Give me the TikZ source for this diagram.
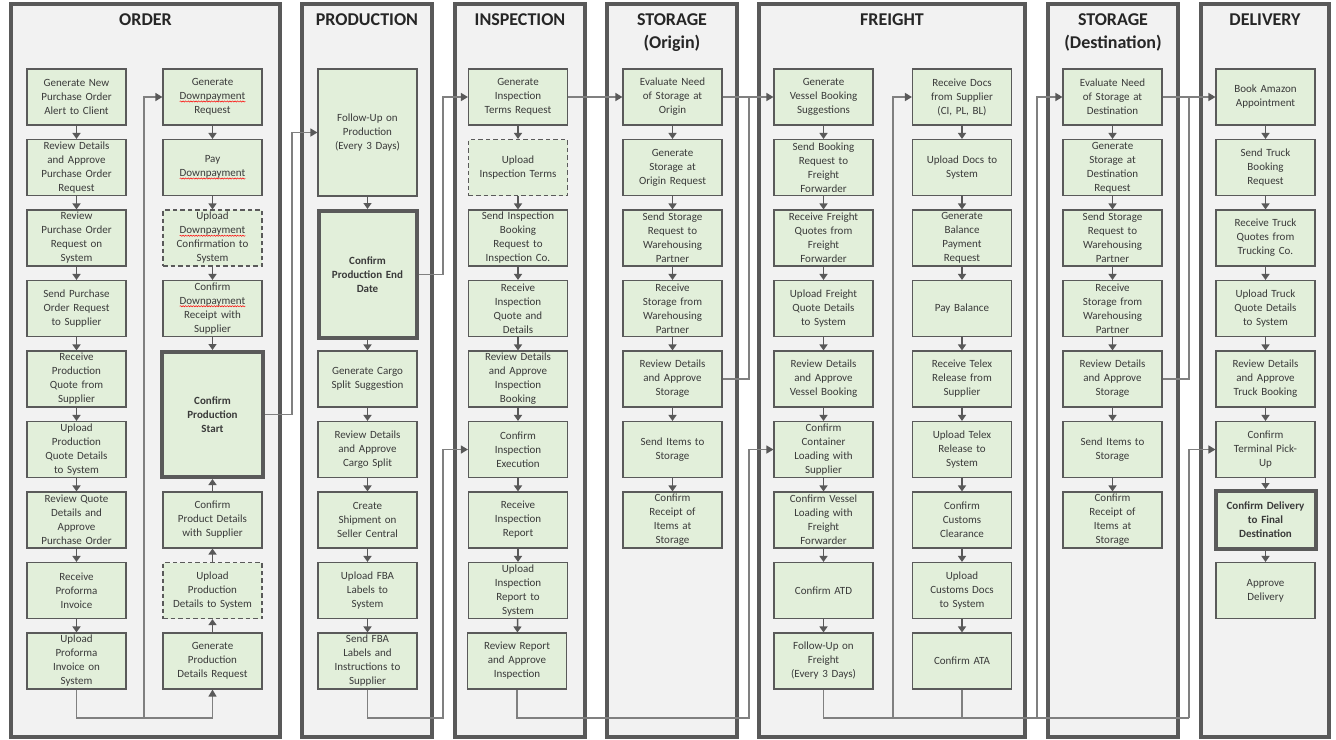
\documentclass[tikz,border=0pt]{standalone}
\usepackage{fontspec}
\setmainfont{Carlito}
\usetikzlibrary{arrows.meta,decorations.pathmorphing}
\definecolor{lanec}{HTML}{595959}
\definecolor{lanefill}{HTML}{F2F2F2}
\definecolor{boxc}{HTML}{5A5A5A}
\definecolor{boxfill}{HTML}{E2EFDA}
\definecolor{txtc}{HTML}{3A3A3A}
\definecolor{titc}{HTML}{262626}
\definecolor{arrc}{HTML}{595959}
\definecolor{connc}{HTML}{808080}
\newcommand\boxfont{\fontsize{11}{14}\selectfont}
\newcommand\titfont{\fontsize{18}{23}\selectfont\bfseries}
\newcommand\sqw[1]{\tikz[baseline=(sqwn.base)]{\node[inner sep=0pt,outer sep=0pt,draw=none,fill=none,text width=,minimum width=0pt,minimum height=0pt,anchor=base](sqwn){#1};\draw[draw=red,line width=0.5pt,solid,decorate,decoration={snake,amplitude=0.6pt,segment length=2.6pt}]([yshift=-1.8pt]sqwn.base west)--([yshift=-1.8pt]sqwn.base east);}}
\begin{document}
\begin{tikzpicture}[x=1pt,y=-1pt,
  lane/.style={draw=lanec,line width=3.5pt,fill=lanefill},
  title/.style={font=\titfont,text=titc,align=center,inner sep=0pt},
  box/.style={draw=boxc,line width=1.1pt,fill=boxfill,minimum width=99pt,minimum height=56pt,text width=97pt,align=center,inner sep=0pt,font=\boxfont,text=txtc},
  dbox/.style={box,line width=1.2pt,dash pattern=on 4.5pt off 3pt},
  kbox/.style={box,line width=4pt,minimum width=101pt,font=\boxfont\bfseries},
  flow/.style={draw=arrc,line width=1.5pt,-{Triangle[width=8pt,length=6pt]}},
  conn/.style={draw=connc,line width=1.3pt},
  conna/.style={conn,-{Triangle[width=8pt,length=7pt,color=arrc]}}
]
\useasboundingbox[fill=white] (0,0) rectangle (1336,739);
% lanes
\draw[lane] (11,4) rectangle (280,737);
\draw[lane] (302,4) rectangle (432,737);
\draw[lane] (455,4) rectangle (585,737);
\draw[lane] (607,4) rectangle (737,737);
\draw[lane] (759,4) rectangle (1025,737);
\draw[lane] (1048,4) rectangle (1178,737);
\draw[lane] (1201,4) rectangle (1329,737);
% titles
\node[title,anchor=north] (tOrd) at (145.5,13.5) {ORDER};
\node[title,anchor=north] (tPro) at (367,13.5) {PRODUCTION};
\node[title,anchor=north] (tIns) at (520,13.5) {INSPECTION};
\node[title,anchor=north] (tSto) at (672,13.5) {STORAGE\\(Origin)};
\node[title,anchor=north] (tFre) at (892,13.5) {FREIGHT};
\node[title,anchor=north] (tStd) at (1113,13.5) {STORAGE\\(Destination)};
\node[title,anchor=north] (tDel) at (1265,13.5) {DELIVERY};
% ORDER column 1
\node[box] (o1) at (76.5,97) {Generate New\\Purchase Order\\Alert to Client};
\node[box] (o2) at (76.5,167.5) {Review Details\\and Approve\\Purchase Order\\Request};
\node[box] (o3) at (76.5,238) {Review\\Purchase Order\\Request on\\System};
\node[box] (o4) at (76.5,308.5) {Send Purchase\\Order Request\\to Supplier};
\node[box] (o5) at (76.5,379) {Receive\\Production\\Quote from\\Supplier};
\node[box] (o6) at (76.5,449.5) {Upload\\Production\\Quote Details\\to System};
\node[box] (o7) at (76.5,520) {Review Quote\\Details and\\Approve\\Purchase Order};
\node[box] (o8) at (76.5,590.5) {Receive\\Proforma\\Invoice};
\node[box] (o9) at (76.5,661) {Upload\\Proforma\\Invoice on\\System};
% ORDER column 2
\node[box] (p1) at (212.5,97) {Generate\\\sqw{Downpayment}\\Request};
\node[box] (p2) at (212.5,167.5) {Pay\\\sqw{Downpayment}};
\node[dbox] (p3) at (212.5,238) {Upload\\\sqw{Downpayment}\\Confirmation to\\System};
\node[box] (p4) at (212.5,308.5) {Confirm\\\sqw{Downpayment}\\Receipt with\\Supplier};
\node[kbox,minimum height=125pt] (ps) at (212.5,414.5) {Confirm\\Production\\Start};
\node[box] (p6) at (212.5,520) {Confirm\\Product Details\\with Supplier};
\node[dbox] (p7) at (212.5,590.5) {Upload\\Production\\Details to System};
\node[box] (p8) at (212.5,661) {Generate\\Production\\Details Request};
% PRODUCTION
\node[box,minimum height=127pt] (pr1) at (367.5,132.5) {Follow-Up on\\Production\\(Every 3 Days)};
\node[kbox,minimum height=127pt,minimum width=98pt] (pe) at (367.5,274.5) {Confirm\\Production End\\Date};
\node[box] (pr3) at (367.5,379) {Generate Cargo\\Split Suggestion};
\node[box] (pr4) at (367.5,449.5) {Review Details\\and Approve\\Cargo Split};
\node[box] (pr5) at (367.5,520) {Create\\Shipment on\\Seller Central};
\node[box] (pr6) at (367.5,590.5) {Upload FBA\\Labels to\\System};
\node[box] (pr7) at (367.5,661) {Send FBA\\Labels and\\Instructions to\\Supplier};
% INSPECTION
\node[box] (i1) at (518,97) {Generate\\Inspection\\Terms Request};
\node[dbox] (i2) at (518,167.5) {Upload\\Inspection Terms};
\node[box] (i3) at (518,238) {Send Inspection\\Booking\\Request to\\Inspection Co.};
\node[box] (i4) at (518,308.5) {Receive\\Inspection\\Quote and\\Details};
\node[box] (i5) at (518,379) {Review Details\\and Approve\\Inspection\\Booking};
\node[box] (i6) at (518,449.5) {Confirm\\Inspection\\Execution};
\node[box] (i7) at (518,520) {Receive\\Inspection\\Report};
\node[box] (i8) at (518,590.5) {Upload\\Inspection\\Report to\\System};
\node[box] (i9) at (517,661) {Review Report\\and Approve\\Inspection};
% STORAGE origin
\node[box] (s1) at (672.5,97) {Evaluate Need\\of Storage at\\Origin};
\node[box] (s2) at (672.5,167.5) {Generate\\Storage at\\Origin Request};
\node[box] (s3) at (672.5,238) {Send Storage\\Request to\\Warehousing\\Partner};
\node[box] (s4) at (672.5,308.5) {Receive\\Storage from\\Warehousing\\Partner};
\node[box] (s5) at (672.5,379) {Review Details\\and Approve\\Storage};
\node[box] (s6) at (672.5,449.5) {Send Items to\\Storage};
\node[box] (s7) at (672.5,520) {Confirm\\Receipt of\\Items at\\Storage};
% FREIGHT column 1
\node[box] (fa1) at (823.5,97) {Generate\\Vessel Booking\\Suggestions};
\node[box] (fa2) at (823.5,167.5) {Send Booking\\Request to\\Freight\\Forwarder};
\node[box] (fa3) at (823.5,238) {Receive Freight\\Quotes from\\Freight\\Forwarder};
\node[box] (fa4) at (823.5,308.5) {Upload Freight\\Quote Details\\to System};
\node[box] (fa5) at (823.5,379) {Review Details\\and Approve\\Vessel Booking};
\node[box] (fa6) at (823.5,449.5) {Confirm\\Container\\Loading with\\Supplier};
\node[box] (fa7) at (823.5,520) {Confirm Vessel\\Loading with\\Freight\\Forwarder};
\node[box] (fa8) at (823.5,590.5) {Confirm ATD};
\node[box] (fa9) at (823.5,661) {Follow-Up on\\Freight\\(Every 3 Days)};
% FREIGHT column 2
\node[box] (fb1) at (962,97) {Receive Docs\\from Supplier\\(CI, PL, BL)};
\node[box] (fb2) at (962,167.5) {Upload Docs to\\System};
\node[box] (fb3) at (962,238) {Generate\\Balance\\Payment\\Request};
\node[box] (fb4) at (962,308.5) {Pay Balance};
\node[box] (fb5) at (962,379) {Receive Telex\\Release from\\Supplier};
\node[box] (fb6) at (962,449.5) {Upload Telex\\Release to\\System};
\node[box] (fb7) at (962,520) {Confirm\\Customs\\Clearance};
\node[box] (fb8) at (962,590.5) {Upload\\Customs Docs\\to System};
\node[box] (fb9) at (962,661) {Confirm ATA};
% STORAGE destination
\node[box] (sd1) at (1112.5,97) {Evaluate Need\\of Storage at\\Destination};
\node[box] (sd2) at (1112.5,167.5) {Generate\\Storage at\\Destination\\Request};
\node[box] (sd3) at (1112.5,238) {Send Storage\\Request to\\Warehousing\\Partner};
\node[box] (sd4) at (1112.5,308.5) {Receive\\Storage from\\Warehousing\\Partner};
\node[box] (sd5) at (1112.5,379) {Review Details\\and Approve\\Storage};
\node[box] (sd6) at (1112.5,449.5) {Send Items to\\Storage};
\node[box] (sd7) at (1112.5,520) {Confirm\\Receipt of\\Items at\\Storage};
% DELIVERY
\node[box] (d1) at (1265.5,97) {Book Amazon\\Appointment};
\node[box] (d2) at (1265.5,167.5) {Send Truck\\Booking\\Request};
\node[box] (d3) at (1265.5,238) {Receive Truck\\Quotes from\\Trucking Co.};
\node[box] (d4) at (1265.5,308.5) {Upload Truck\\Quote Details\\to System};
\node[box] (d5) at (1265.5,379) {Review Details\\and Approve\\Truck Booking};
\node[box] (d6) at (1265.5,449.5) {Confirm\\Terminal Pick-\\Up};
\node[kbox,minimum height=58pt,minimum width=100pt] (d7) at (1265.5,520) {Confirm Delivery\\to Final\\Destination};
\node[box] (d8) at (1265.5,590.5) {Approve\\Delivery};
% short flow arrows
\foreach \a/\b in {o1/o2,o2/o3,o3/o4,o4/o5,o5/o6,o6/o7,o7/o8,o8/o9,
  p1/p2,p2/p3,p3/p4,p4/ps,p8/p7,p7/p6,p6/ps,
  pr1/pe,pe/pr3,pr3/pr4,pr4/pr5,pr5/pr6,pr6/pr7,
  i1/i2,i2/i3,i3/i4,i4/i5,i5/i6,i6/i7,i7/i8,i8/i9,
  s1/s2,s2/s3,s3/s4,s4/s5,s5/s6,s6/s7,
  fa1/fa2,fa2/fa3,fa3/fa4,fa4/fa5,fa5/fa6,fa6/fa7,fa7/fa8,fa8/fa9,
  fb1/fb2,fb2/fb3,fb3/fb4,fb4/fb5,fb5/fb6,fb6/fb7,fb7/fb8,fb8/fb9,
  sd1/sd2,sd2/sd3,sd3/sd4,sd4/sd5,sd5/sd6,sd6/sd7,
  d1/d2,d2/d3,d3/d4,d4/d5,d5/d6,d6/d7,d7/d8}
  \draw[flow] (\a) -- (\b);
% long connectors
\coordinate (ob) at (144,718);
\draw[conn] (o9.south) |- (ob);
\draw[conna] (ob) -| (p8.south);
\draw[conna] (ob) |- (p1.west);
\coordinate (k1) at (292,300);
\draw[conna] (ps.east) -| (k1) |- (pr1.west);
\coordinate (k2) at (443,200);
\draw[conna] (pe.east) -| (k2) |- (i1.west);
\coordinate (k3) at (443,718);
\draw[conna] (pr7.south) |- (k3) |- (i6.west);
\draw[conna] (i1.east) -- (s1.west);
\coordinate (k4) at (749,718);
\draw[conna] (i9.south) |- (k4) |- (fa6.west);
\coordinate (k5) at (749,97);
\draw[conna] (s1.east) -- (fa1.west);
\draw[conn] (s5.east) -| (k5);
\coordinate (k6) at (893,718);
\coordinate (k7) at (1037,718);
\coordinate (k8) at (1189,718);
\draw[conn] (fa9.south) |- (k8);
\draw[conna] (k8) |- (d6.west);
\draw[conn] (fb9.south) -- (fb9.south |- k6);
\draw[conna] (k6) |- (fb1.west);
\draw[conna] (k7) |- (sd1.west);
\draw[conna] (sd1.east) -- (d1.west);
\coordinate (k9) at (1189,97);
\draw[conn] (sd5.east) -| (k9);
\end{tikzpicture}
\end{document}
